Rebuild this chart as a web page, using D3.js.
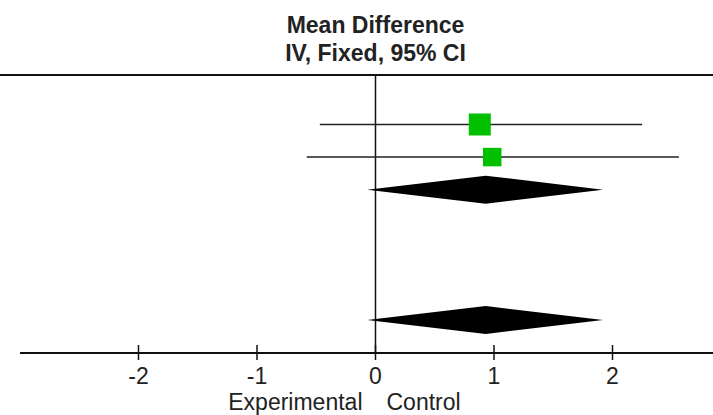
<!DOCTYPE html>
<html>
<head>
<meta charset="utf-8">
<script src="https://cdn.jsdelivr.net/npm/d3@7"></script>
<style>
    body { margin: 0; background: #fff; }
    svg { display: block; }
</style>
</head>
<body>
<div id="chart"></div>
<script>
// Study rows (mean difference with 95% CI)
const studyRows = [0, 1];
const studyMean = [0.88, 0.985];
const studyLower = [-0.47, -0.58];
const studyUpper = [2.25, 2.56];
const studyWeight = [58.6, 41.4];

// Pooled estimates (diamonds)
const totalRows = [2, 6];
const totalMean = [0.93, 0.93];
const totalLower = [-0.07, -0.07];
const totalUpper = [1.92, 1.92];

const tickValues = [-2, -1, 0, 1, 2];
const titleLines = ['Mean Difference', 'IV, Fixed, 95% CI'];
const favoursLeft = 'Experimental';
const favoursRight = 'Control';

const width = 713, height = 415;
const axisY = 353, topY = 75;

let svg = d3.select('#chart').append('svg')
    .attr('width', width)
    .attr('height', height);

let x = d3.scaleLinear().domain([-3, 3]).range([20, 731]);
let y = d3.scaleLinear().domain([0, 6]).range([124.5, 320]);
let boxSize = d3.scaleSqrt().domain([0, d3.max(studyWeight)]).range([0, 22]);

// Titles
svg.selectAll('text.title')
    .data(titleLines)
    .enter()
    .append('text')
    .attr('class', 'title')
    .attr('x', x(0))
    .attr('y', (d, i) => 33 + i * 28)
    .attr('text-anchor', 'middle')
    .attr('font-family', 'Liberation Sans, Arial, sans-serif')
    .attr('font-weight', 'bold')
    .attr('font-size', 23)
    .attr('fill', '#222')
    .text(d => d);

// Top rule
svg.append('line')
    .attr('x1', 0).attr('x2', width)
    .attr('y1', topY).attr('y2', topY)
    .attr('stroke', '#111').attr('stroke-width', 2);

// Line of no effect
svg.append('line')
    .attr('x1', x(0)).attr('x2', x(0))
    .attr('y1', topY).attr('y2', axisY)
    .attr('stroke', '#111').attr('stroke-width', 1.5);

// Confidence intervals
svg.selectAll('line.ci')
    .data(studyRows)
    .enter()
    .append('line')
    .attr('class', 'ci')
    .attr('x1', (d, i) => x(studyLower[i]))
    .attr('x2', (d, i) => x(studyUpper[i]))
    .attr('y1', d => y(d))
    .attr('y2', d => y(d))
    .attr('stroke', '#222').attr('stroke-width', 1.5);

// Study boxes
svg.selectAll('rect.box')
    .data(studyRows)
    .enter()
    .append('rect')
    .attr('class', 'box')
    .attr('x', (d, i) => x(studyMean[i]) - boxSize(studyWeight[i]) / 2)
    .attr('y', (d, i) => y(d) - boxSize(studyWeight[i]) / 2)
    .attr('width', (d, i) => boxSize(studyWeight[i]))
    .attr('height', (d, i) => boxSize(studyWeight[i]))
    .attr('fill', '#00c000');

// Diamonds
svg.selectAll('path.diamond')
    .data(totalRows)
    .enter()
    .append('path')
    .attr('class', 'diamond')
    .attr('d', (d, i) => {
        let cy = y(d), h = 14;
        return `M${x(totalLower[i])},${cy} L${x(totalMean[i])},${cy - h} ` +
            `L${x(totalUpper[i])},${cy} L${x(totalMean[i])},${cy + h} Z`;
    })
    .attr('fill', '#000');

// Axis
svg.append('line')
    .attr('x1', 20).attr('x2', width)
    .attr('y1', axisY).attr('y2', axisY)
    .attr('stroke', '#111').attr('stroke-width', 2);

svg.selectAll('line.tick')
    .data(tickValues)
    .enter()
    .append('line')
    .attr('class', 'tick')
    .attr('x1', d => x(d)).attr('x2', d => x(d))
    .attr('y1', axisY - 8).attr('y2', axisY + 7)
    .attr('stroke', '#111').attr('stroke-width', 1.5);

svg.selectAll('text.ticklabel')
    .data(tickValues)
    .enter()
    .append('text')
    .attr('class', 'ticklabel')
    .attr('x', d => x(d))
    .attr('y', 384)
    .attr('text-anchor', 'middle')
    .attr('font-family', 'Liberation Sans, Arial, sans-serif')
    .attr('font-size', 23)
    .attr('fill', '#222')
    .text(d => d);

// Favours labels
svg.append('text')
    .attr('x', x(0) - 13).attr('y', 410)
    .attr('text-anchor', 'end')
    .attr('font-family', 'Liberation Sans, Arial, sans-serif')
    .attr('font-size', 23)
    .attr('fill', '#222')
    .text(favoursLeft);

svg.append('text')
    .attr('x', x(0) + 11).attr('y', 410)
    .attr('text-anchor', 'start')
    .attr('font-family', 'Liberation Sans, Arial, sans-serif')
    .attr('font-size', 23)
    .attr('fill', '#222')
    .text(favoursRight);
</script>
</body>
</html>
